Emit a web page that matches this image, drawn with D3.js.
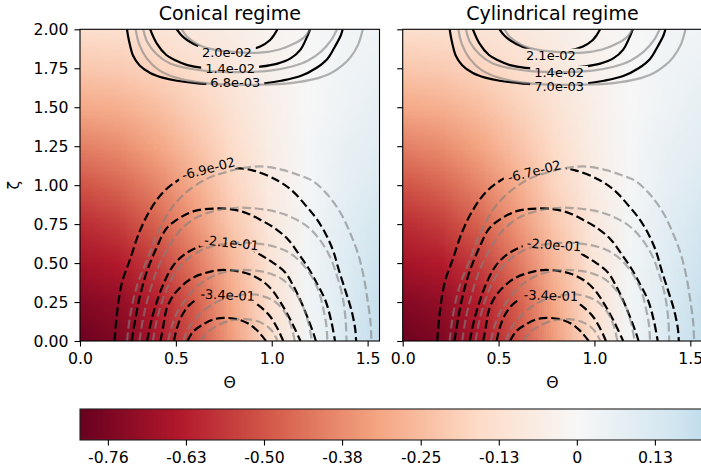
<!DOCTYPE html>
<html>
<head>
<meta charset="utf-8">
<script src="https://cdn.jsdelivr.net/npm/d3@7"></script>
<style>
  body { margin: 0; background: #fff; }
  svg { display: block; }
  text { font-family: "DejaVu Sans", sans-serif; fill: #000; }
</style>
</head>
<body>
<div id="chart"></div>
<script>
// shading field, rows go from zeta = 0 (bottom) to zeta = 2 (top)
var thetaNodes = [0, 0.196, 0.393, 0.589, 0.785, 0.982, 1.178, 1.374, 1.571];
var zetaNodes = [0, 0.25, 0.5, 0.75, 1.0, 1.25, 1.5, 1.75, 2.0];
var shade = [
  [-0.79, -0.75, -0.66, -0.52, -0.34, -0.14, 0.02, 0.12, 0.20],
  [-0.74, -0.71, -0.63, -0.49, -0.31, -0.13, 0.02, 0.11, 0.19],
  [-0.67, -0.64, -0.56, -0.43, -0.27, -0.11, 0.02, 0.10, 0.17],
  [-0.60, -0.56, -0.48, -0.36, -0.22, -0.09, 0.02, 0.09, 0.15],
  [-0.51, -0.47, -0.40, -0.30, -0.18, -0.07, 0.01, 0.07, 0.12],
  [-0.41, -0.38, -0.32, -0.24, -0.15, -0.06, 0.01, 0.06, 0.09],
  [-0.31, -0.29, -0.25, -0.19, -0.12, -0.05, 0.00, 0.04, 0.07],
  [-0.22, -0.21, -0.18, -0.14, -0.09, -0.04, 0.00, 0.03, 0.05],
  [-0.14, -0.13, -0.11, -0.09, -0.06, -0.03, 0.00, 0.02, 0.03]
];

var panelTitles = ["Conical regime", "Cylindrical regime"];
var xTicks = [0, 0.5, 1.0, 1.5];
var yTicks = [0, 0.25, 0.5, 0.75, 1.0, 1.25, 1.5, 1.75, 2.0];
var cbarTicks = [-0.757, -0.631, -0.505, -0.379, -0.252, -0.126, 0, 0.126];
var cbarTickLabels = ["-0.76", "-0.63", "-0.50", "-0.38", "-0.25", "-0.13", "0", "0.13"];

// contour labels (positive levels, then negative levels) for each panel
var levelLabels = [
  ["2.0e-02", "1.4e-02", "6.8e-03", "-6.9e-02", "-2.1e-01", "-3.4e-01"],
  ["2.1e-02", "1.4e-02", "7.0e-03", "-6.7e-02", "-2.0e-01", "-3.4e-01"]
];
// where each label sits: [theta, zeta, angle]
var labelSpots = [
  [[0.766, 1.855, 0], [0.783, 1.748, 0], [0.81, 1.658, 0], [0.67, 1.107, -15], [0.79, 0.63, 6], [0.77, 0.295, 2.5]],
  [[0.773, 1.835, 0], [0.816, 1.725, 0], [0.816, 1.635, 0], [0.686, 1.09, -14], [0.79, 0.617, 4], [0.773, 0.292, 2]]
];

// contour lines, [theta, zeta]
var blackNeg = [
  [[0.18,0],[0.195,0.2],[0.22,0.38],[0.26,0.52],[0.31,0.70],[0.366,0.84],[0.43,0.95],[0.51,1.03],[0.60,1.08],[0.70,1.105],[0.80,1.11],[0.90,1.095],[1.03,1.03],[1.11,0.96],[1.17,0.88],[1.23,0.79],[1.28,0.69],[1.32,0.58],[1.35,0.455],[1.385,0.32],[1.415,0.2],[1.435,0.08],[1.44,0]],
  [[0.27,0],[0.29,0.15],[0.315,0.30],[0.35,0.45],[0.40,0.60],[0.45,0.72],[0.52,0.79],[0.60,0.835],[0.70,0.85],[0.79,0.845],[0.87,0.82],[0.945,0.775],[1.02,0.72],[1.086,0.65],[1.14,0.56],[1.19,0.47],[1.24,0.36],[1.28,0.26],[1.31,0.13],[1.33,0]],
  [[0.35,0],[0.37,0.12],[0.40,0.25],[0.44,0.38],[0.49,0.49],[0.55,0.56],[0.62,0.605],[0.70,0.63],[0.78,0.63],[0.86,0.61],[0.945,0.55],[1.01,0.50],[1.07,0.44],[1.11,0.36],[1.15,0.26],[1.19,0.14],[1.22,0.04],[1.23,0]],
  [[0.42,0],[0.435,0.1],[0.45,0.2],[0.48,0.28],[0.52,0.34],[0.58,0.40],[0.65,0.435],[0.73,0.455],[0.81,0.45],[0.88,0.43],[0.945,0.39],[1.0,0.33],[1.05,0.24],[1.10,0.13],[1.15,0]],
  [[0.49,0],[0.505,0.08],[0.53,0.16],[0.57,0.23],[0.63,0.28],[0.70,0.30],[0.78,0.30],[0.86,0.28],[0.93,0.23],[0.99,0.16],[1.03,0.08],[1.06,0]],
  [[0.56,0],[0.59,0.06],[0.64,0.105],[0.70,0.14],[0.76,0.148],[0.82,0.14],[0.88,0.11],[0.93,0.06],[0.97,0]]
];
var grayNeg = [
  [[0.245,0],[0.26,0.15],[0.285,0.3],[0.31,0.40],[0.35,0.52],[0.40,0.68],[0.47,0.84],[0.55,0.95],[0.66,1.04],[0.75,1.08],[0.85,1.11],[0.945,1.12],[1.05,1.10],[1.14,1.065],[1.21,1.03],[1.29,0.94],[1.36,0.82],[1.41,0.69],[1.45,0.56],[1.48,0.41],[1.50,0.26],[1.515,0.12],[1.52,0]],
  [[0.31,0],[0.33,0.15],[0.36,0.3],[0.40,0.45],[0.46,0.6],[0.53,0.72],[0.62,0.80],[0.72,0.84],[0.82,0.855],[0.92,0.85],[1.02,0.83],[1.11,0.79],[1.19,0.73],[1.25,0.65],[1.30,0.55],[1.34,0.42],[1.37,0.28],[1.385,0.14],[1.39,0]],
  [[0.38,0],[0.40,0.13],[0.43,0.26],[0.47,0.38],[0.53,0.49],[0.60,0.56],[0.68,0.605],[0.78,0.625],[0.88,0.63],[0.98,0.615],[1.07,0.58],[1.14,0.52],[1.20,0.43],[1.245,0.32],[1.27,0.2],[1.285,0.1],[1.29,0]],
  [[0.46,0],[0.48,0.1],[0.51,0.19],[0.56,0.28],[0.62,0.36],[0.70,0.42],[0.79,0.45],[0.88,0.455],[0.97,0.44],[1.05,0.40],[1.11,0.33],[1.16,0.23],[1.19,0.12],[1.21,0]],
  [[0.54,0],[0.56,0.07],[0.60,0.14],[0.66,0.21],[0.73,0.26],[0.81,0.29],[0.89,0.30],[0.96,0.285],[1.02,0.25],[1.07,0.18],[1.10,0.1],[1.12,0]],
  [[0.63,0],[0.66,0.05],[0.71,0.095],[0.78,0.13],[0.86,0.14],[0.93,0.125],[0.98,0.09],[1.01,0.05],[1.03,0]]
];
var blackPos = [
  [[0.505,2.0],[0.53,1.96],[0.56,1.93],[0.63,1.885],[0.70,1.86],[0.78,1.855],[0.87,1.865],[0.94,1.89],[0.99,1.93],[1.01,1.96],[1.03,2.0]],
  [[0.366,2.0],[0.40,1.91],[0.45,1.835],[0.50,1.80],[0.56,1.77],[0.64,1.752],[0.78,1.745],[0.94,1.76],[1.03,1.78],[1.10,1.815],[1.15,1.87],[1.18,1.94],[1.20,2.0]],
  [[0.245,2.0],[0.255,1.93],[0.277,1.83],[0.31,1.77],[0.366,1.72],[0.43,1.69],[0.505,1.67],[0.627,1.652],[0.75,1.645],[0.85,1.645],[0.94,1.65],[1.05,1.67],[1.15,1.70],[1.23,1.75],[1.29,1.81],[1.33,1.89],[1.36,1.96],[1.37,2.0]]
];
var grayPos = [
  [[0.53,2.0],[0.56,1.95],[0.62,1.90],[0.70,1.87],[0.80,1.855],[0.94,1.85],[1.04,1.87],[1.12,1.91],[1.17,1.95],[1.20,2.0]],
  [[0.33,2.0],[0.35,1.92],[0.40,1.84],[0.47,1.78],[0.56,1.75],[0.68,1.73],[0.83,1.725],[0.99,1.735],[1.10,1.76],[1.19,1.80],[1.26,1.86],[1.31,1.93],[1.34,2.0]],
  [[0.29,2.0],[0.31,1.90],[0.35,1.81],[0.41,1.74],[0.50,1.69],[0.62,1.66],[0.78,1.645],[0.95,1.645],[1.10,1.655],[1.22,1.68],[1.31,1.72],[1.37,1.77],[1.41,1.82],[1.45,1.90],[1.475,2.0]]
];

// ---- layout
var W = 701, H = 472;
var panels = [
  {left: 80, right: 379.5},
  {left: 402.7, right: 702.2}
];
var plotTop = 29.3, plotBottom = 341;
var tickFont = "15.7px";

var svg = d3.select("#chart")
  .append("svg")
    .attr("width", W)
    .attr("height", H);
var defs = svg.append("defs");

// matplotlib RdBu, symmetric about zero
var rdbu = ["#67001f","#b2182b","#d6604d","#f4a582","#fddbc7","#f7f7f7","#d1e5f0","#92c5de","#4393c3","#2166ac","#053061"];
var vmax = 0.802;
var color = d3.scaleLinear()
    .domain(rdbu.map(function(c, i) { return -vmax + i * 2 * vmax / (rdbu.length - 1); }))
    .range(rdbu)
    .clamp(true);

// small image of the field, smoothed by the browser when stretched
var cv = document.createElement("canvas");
cv.width = thetaNodes.length; cv.height = zetaNodes.length;
var ctx = cv.getContext("2d");
shade.forEach(function(row, j) {
  row.forEach(function(v, i) {
    ctx.fillStyle = color(v);
    ctx.fillRect(i, zetaNodes.length - 1 - j, 1, 1);
  });
});
var shadeUrl = cv.toDataURL();
var dTh = (thetaNodes[thetaNodes.length - 1] - thetaNodes[0]) / (thetaNodes.length - 1);
var dZe = (zetaNodes[zetaNodes.length - 1] - zetaNodes[0]) / (zetaNodes.length - 1);

var y = d3.scaleLinear().domain([0, 2]).range([plotBottom, plotTop]);

panels.forEach(function(pn, p) {
  var x = d3.scaleLinear().domain([0, 1.562]).range([pn.left, pn.right]);

  defs.append("clipPath").attr("id", "clip" + p)
    .append("rect")
      .attr("x", pn.left).attr("y", plotTop)
      .attr("width", pn.right - pn.left).attr("height", plotBottom - plotTop);

  var plot = svg.append("g").attr("clip-path", "url(#clip" + p + ")");

  // shading
  plot.append("image")
    .attr("href", shadeUrl)
    .attr("preserveAspectRatio", "none")
    .attr("x", x(thetaNodes[0] - dTh / 2))
    .attr("y", y(zetaNodes[zetaNodes.length - 1] + dZe / 2))
    .attr("width", x(thetaNodes[thetaNodes.length - 1] + dTh / 2) - x(thetaNodes[0] - dTh / 2))
    .attr("height", y(zetaNodes[0] - dZe / 2) - y(zetaNodes[zetaNodes.length - 1] + dZe / 2));

  var line = d3.line()
    .x(function(d) { return x(d[0]); })
    .y(function(d) { return y(d[1]); })
    .curve(d3.curveCatmullRom.alpha(0.5));

  // mask that cuts the black lines under their labels
  var mask = defs.append("mask").attr("id", "mask" + p)
    .attr("maskUnits", "userSpaceOnUse")
    .attr("x", 0).attr("y", 0).attr("width", W).attr("height", H);
  mask.append("rect").attr("x", 0).attr("y", 0).attr("width", W).attr("height", H).attr("fill", "white");

  var blackG = plot.append("g").attr("mask", "url(#mask" + p + ")");
  blackG.selectAll(".neg").data(blackNeg).enter().append("path")
    .attr("d", line)
    .attr("fill", "none").attr("stroke", "#000")
    .attr("stroke-width", 2.2).attr("stroke-dasharray", "8.7,3.8");
  blackG.selectAll(".pos").data(blackPos).enter().append("path")
    .attr("d", line)
    .attr("fill", "none").attr("stroke", "#000")
    .attr("stroke-width", 2.2);

  plot.selectAll(".gneg").data(grayNeg).enter().append("path")
    .attr("d", line)
    .attr("fill", "none").attr("stroke", "#808080").attr("stroke-opacity", 0.6)
    .attr("stroke-width", 2.2).attr("stroke-dasharray", "8.7,3.8");
  plot.selectAll(".gpos").data(grayPos).enter().append("path")
    .attr("d", line)
    .attr("fill", "none").attr("stroke", "#808080").attr("stroke-opacity", 0.6)
    .attr("stroke-width", 2.2);

  // contour labels
  levelLabels[p].forEach(function(txt, k) {
    var s = labelSpots[p][k];
    var tf = "translate(" + x(s[0]) + "," + y(s[1]) + ") rotate(" + s[2] + ")";
    var t = svg.append("text")
      .attr("transform", tf)
      .attr("text-anchor", "middle")
      .attr("dy", "0.36em")
      .style("font-size", "13px")
      .text(txt);
    var bb = t.node().getBBox();
    mask.append("rect")
      .attr("transform", tf)
      .attr("x", bb.x - 4).attr("y", bb.y + 1)
      .attr("width", bb.width + 8).attr("height", bb.height - 2)
      .attr("fill", "black");
  });

  // frame
  svg.append("rect")
    .attr("x", pn.left).attr("y", plotTop)
    .attr("width", pn.right - pn.left).attr("height", plotBottom - plotTop)
    .attr("fill", "none").attr("stroke", "#000").attr("stroke-width", 1.1);

  // axes
  var gx = svg.append("g")
    .attr("transform", "translate(0," + plotBottom + ")")
    .call(d3.axisBottom(x).tickValues(xTicks).tickFormat(d3.format(".1f")).tickSize(5.5).tickPadding(6));
  var gy = svg.append("g")
    .attr("transform", "translate(" + pn.left + ",0)")
    .call(d3.axisLeft(y).tickValues(yTicks).tickFormat(p === 0 ? d3.format(".2f") : function() { return ""; }).tickSize(5.5).tickPadding(6));
  [gx, gy].forEach(function(g) {
    g.select(".domain").remove();
    g.selectAll("line").attr("stroke", "#000").attr("stroke-width", 1.1);
    g.selectAll("text").style("font-size", tickFont).style("font-family", "DejaVu Sans").attr("fill", "#000");
  });

  svg.append("text")
    .attr("x", (pn.left + pn.right) / 2).attr("y", 20)
    .attr("text-anchor", "middle")
    .style("font-size", "19px")
    .text(panelTitles[p]);

  svg.append("text")
    .attr("x", (pn.left + pn.right) / 2).attr("y", 388)
    .attr("text-anchor", "middle")
    .style("font-size", tickFont)
    .text("Θ");
});

svg.append("text")
  .attr("transform", "translate(19," + (plotTop + plotBottom) / 2 + ") rotate(-90)")
  .attr("text-anchor", "middle")
  .style("font-size", tickFont)
  .text("ζ");

// ---- colorbar
var cbTop = 409, cbBottom = 440;
var cx = d3.scaleLinear().domain([-vmax, vmax]).range([80, 80 + 2 * vmax * 619.5]);
var grad = defs.append("linearGradient").attr("id", "cbgrad")
  .attr("gradientUnits", "userSpaceOnUse")
  .attr("x1", cx(-vmax)).attr("x2", cx(vmax)).attr("y1", 0).attr("y2", 0);
rdbu.forEach(function(c, i) {
  grad.append("stop").attr("offset", i / (rdbu.length - 1)).attr("stop-color", c);
});
svg.append("rect")
  .attr("x", cx(-vmax)).attr("y", cbTop)
  .attr("width", cx(vmax) - cx(-vmax)).attr("height", cbBottom - cbTop)
  .attr("fill", "url(#cbgrad)")
  .attr("stroke", "#222").attr("stroke-width", 1.1);

var gc = svg.append("g")
  .attr("transform", "translate(0," + cbBottom + ")")
  .call(d3.axisBottom(cx).tickValues(cbarTicks)
    .tickFormat(function(d, i) { return cbarTickLabels[i]; })
    .tickSize(5.5).tickPadding(6));
gc.select(".domain").remove();
gc.selectAll("line").attr("stroke", "#000").attr("stroke-width", 1.1);
gc.selectAll("text").style("font-size", tickFont).style("font-family", "DejaVu Sans").attr("fill", "#000");
</script>
</body>
</html>
